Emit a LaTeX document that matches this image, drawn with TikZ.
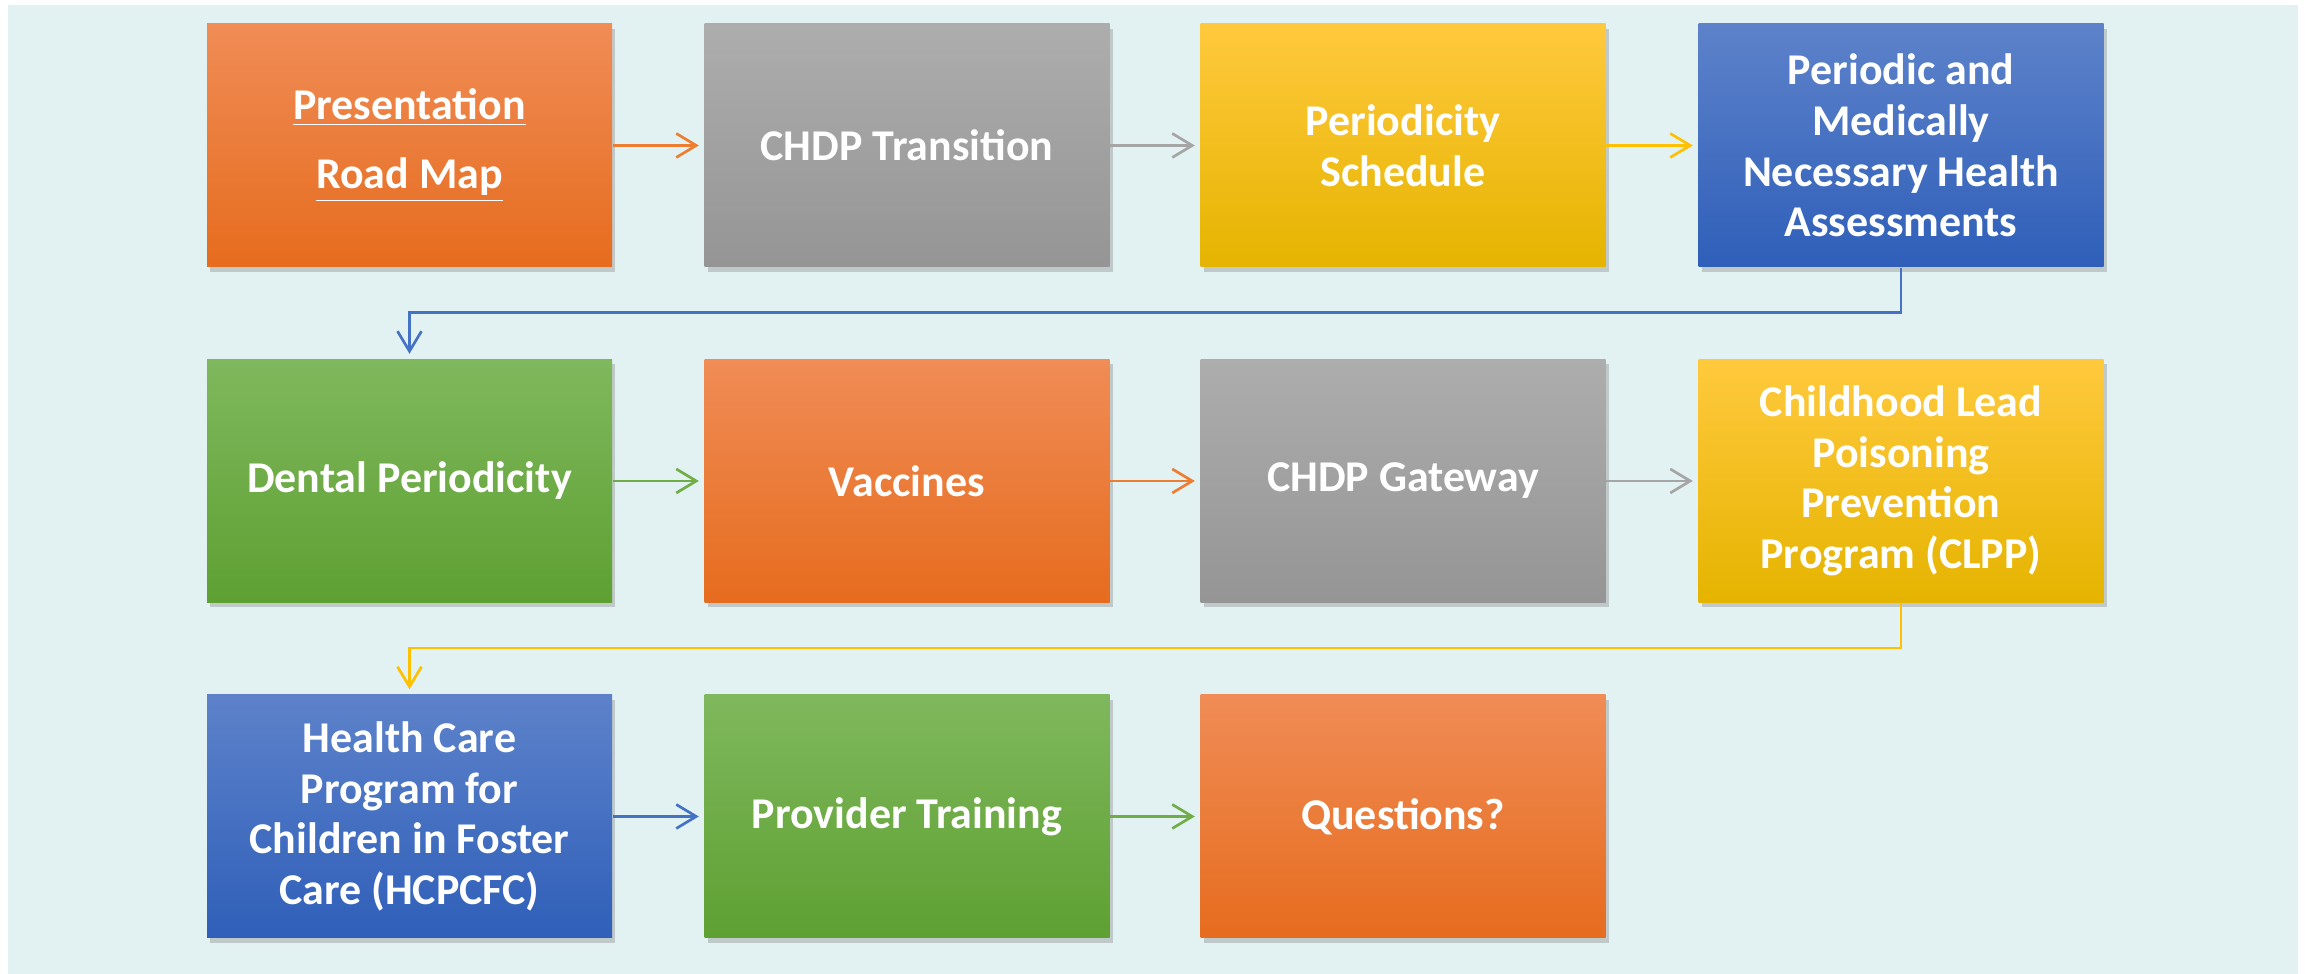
\documentclass[tikz,border=0pt]{standalone}
\usepackage{fontspec}
\setmainfont{Carlito}
\usetikzlibrary{arrows.meta,shadows}
\definecolor{O}{RGB}{237,125,49}
\definecolor{S}{RGB}{165,165,165}
\definecolor{Y}{RGB}{255,192,0}
\definecolor{B}{RGB}{68,114,196}
\definecolor{G}{RGB}{112,173,71}
\definecolor{Otop}{RGB}{240,140,86}
\definecolor{Obot}{RGB}{230,108,30}
\definecolor{Stop}{RGB}{173,173,173}
\definecolor{Sbot}{RGB}{149,149,149}
\definecolor{Ytop}{RGB}{255,201,61}
\definecolor{Ybot}{RGB}{229,180,0}
\definecolor{Btop}{RGB}{93,130,202}
\definecolor{Bbot}{RGB}{47,95,185}
\definecolor{Gtop}{RGB}{127,184,93}
\definecolor{Gbot}{RGB}{94,160,50}
\definecolor{bg}{RGB}{226,241,241}
\tikzset{
  box/.style={minimum width=4.05cm, minimum height=2.43cm, inner sep=0pt, text=white,
    font=\fontsize{12.5}{14.4}\selectfont\bfseries, align=center,
    drop shadow={shadow xshift=0.03cm, shadow yshift=-0.05cm, opacity=0.35}},
  link/.style={line width=0.75pt, -{Straight Barb[length=0.2cm,width=0.24cm]}, shorten >=0.05cm}
}

\begin{document}
\begin{tikzpicture}
  \useasboundingbox (0,0) rectangle (23.05,9.74);
  \fill[bg] (0.08,0) rectangle (22.98,9.69);
  % row 1
  \node[box, top color=Otop, bottom color=Obot] (b1) at (4.095,8.285) {\underline{Presentation}\\[0.19cm]\underline{Road Map}};
  \node[box, top color=Stop, bottom color=Sbot] (b2) at (9.07,8.285) {CHDP Transition};
  \node[box, top color=Ytop, bottom color=Ybot] (b3) at (14.03,8.285) {Periodicity\\Schedule};
  \node[box, top color=Btop, bottom color=Bbot] (b4) at (19.01,8.285) {Periodic and\\Medically\\Necessary Health\\Assessments};
  % row 2
  \node[box, top color=Gtop, bottom color=Gbot] (b5) at (4.095,4.93) {Dental Periodicity};
  \node[box, top color=Otop, bottom color=Obot] (b6) at (9.07,4.93) {Vaccines};
  \node[box, top color=Stop, bottom color=Sbot] (b7) at (14.03,4.93) {CHDP Gateway};
  \node[box, top color=Ytop, bottom color=Ybot] (b8) at (19.01,4.93) {Childhood Lead\\Poisoning\\Prevention\\Program (CLPP)};
  % row 3
  \node[box, top color=Btop, bottom color=Bbot] (b9) at (4.095,1.575) {Health Care\\Program for\\Children in Foster\\Care (HCPCFC)};
  \node[box, top color=Gtop, bottom color=Gbot] (b10) at (9.07,1.575) {Provider Training};
  \node[box, top color=Otop, bottom color=Obot] (b11) at (14.03,1.575) {Questions?};
  % links
  \draw[link, O] (b1) -- (b2);
  \draw[link, S] (b2) -- (b3);
  \draw[link, Y] (b3) -- (b4);
  \draw[link, B] (b4.south) -- ++(0,-0.45) -| (b5.north);
  \draw[link, G] (b5) -- (b6);
  \draw[link, O] (b6) -- (b7);
  \draw[link, S] (b7) -- (b8);
  \draw[link, Y] (b8.south) -- ++(0,-0.45) -| (b9.north);
  \draw[link, B] (b9) -- (b10);
  \draw[link, G] (b10) -- (b11);
\end{tikzpicture}
\end{document}
